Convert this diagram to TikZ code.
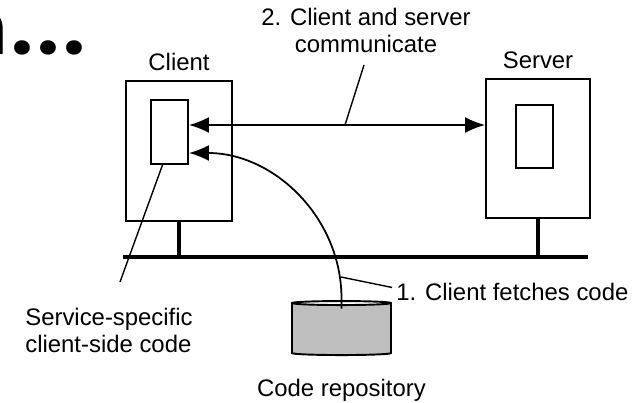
\documentclass[tikz,border=0pt]{standalone}
\usepackage{fontspec}
\setmainfont{Liberation Sans}
\newfontfamily\headfont{Poppins}
\usetikzlibrary{arrows.meta,positioning,shapes.geometric}

\newcommand{\headdot}{\makebox[0.52cm]{.}}

\begin{document}
\begin{tikzpicture}[x=0.02cm, y=-0.02cm, >={Latex[length=4mm,width=3.2mm]},
  box/.style={draw, line width=1.1pt, inner sep=0pt},
  tag/.style={inner sep=0pt, font=\fontsize{13.6}{15.3}\selectfont},
  link/.style={line width=1pt},
  pointer/.style={line width=0.8pt}]
\useasboundingbox (0,0) rectangle (641,402);

\node[anchor=base west, inner sep=0pt, font=\fontsize{44}{44}\headfont\bfseries] (dots) at (9.5,54) {\llap{n\kern1pt}\headdot\headdot\headdot};

% client and server machines
\node[box, minimum width=2.12cm, minimum height=2.8cm] (client) at (179,151) {};
\node[box, minimum width=0.74cm, minimum height=1.28cm] (clientcode) at (169.5,132) {};
\node[box, minimum width=2.08cm, minimum height=2.78cm] (server) at (538,148.5) {};
\node[box, minimum width=0.74cm, minimum height=1.26cm] (servercode) at (534.5,136.5) {};
\node[tag, above=0.17cm of client] (clientname) {Client};
\node[tag, above=0.17cm of server] (servername) {Server};

% network
\coordinate (busL) at (123,257);
\coordinate (busR) at (588,257);
\draw[line width=2.8pt] (busL) -- (busR);
\draw[line width=2.3pt] (client.south) -- (client.south |- busL);
\draw[line width=2.3pt] (server.south) -- (server.south |- busL);

% repository
\node[cylinder, shape border rotate=90, aspect=0.34, draw, line width=1.1pt,
  minimum width=1.98cm, minimum height=1.08cm, cylinder uses custom fill,
  cylinder body fill=gray!50, cylinder end fill=white] (repo) at (341.5,330) {};
\node[tag, below=0.46cm of repo] (reponame) {Code repository};

% step 2
\coordinate (talk) at (345,125);
\draw[link, <->] (clientcode.east |- talk) -- (server.west |- talk);
\node[tag, align=center, anchor=north] (talklabel) at (366,8) {2. Client and server\\communicate};
\coordinate (talktip) at (364,65);
\draw[pointer] (talk) -- (talktip);

% step 1
\coordinate (fetchstart) at ([yshift=-0.17cm]repo.north);
\draw[link, ->] (fetchstart) -- ++(0,-10) .. controls +(0,-81) and +(85,0) .. ([yshift=-0.42cm]clientcode.east);
\node[tag, anchor=base west] (fetchlabel) at (396,300) {1. Client fetches code};
\coordinate (onfetch) at (341,277);
\draw[pointer] (onfetch) -- ([shift={(-0.08cm,0.08cm)}]fetchlabel.west);

\node[tag, align=left, anchor=north west] (servicelabel) at (25,308) {Service-specific\\client-side code};
\coordinate (svcend) at (120,282);
\draw[pointer] ([xshift=-0.14cm]clientcode.south) -- (svcend);
\end{tikzpicture}
\end{document}
